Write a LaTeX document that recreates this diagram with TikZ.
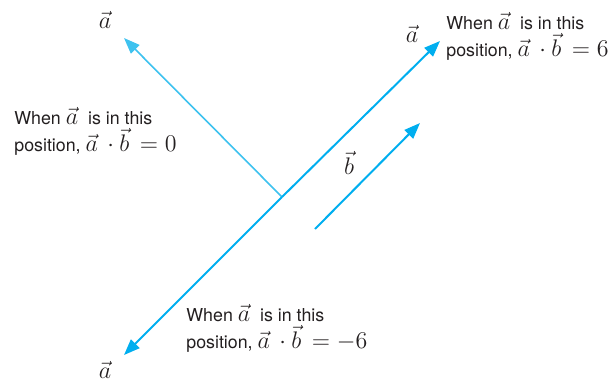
\documentclass[tikz,border=0pt]{standalone}
\usepackage{amsmath}
\usepackage{fontspec}
\setmainfont{TeX Gyre Heros}
\usetikzlibrary{arrows.meta}
\definecolor{vecblue}{HTML}{00AEEF}
\definecolor{perpblue}{HTML}{3EC2EF}
\definecolor{inkgray}{HTML}{231F20}
\newcommand{\bigvm}[1]{{\fontsize{12}{14}\selectfont$#1$}}
\tikzstyle{vecarrow} = [line width=1pt, -{Triangle[length=8pt, width=6pt]}, draw=vecblue]
\tikzstyle{perparrow} = [line width=0.8pt, -{Triangle[length=8pt, width=6pt]}, draw=perpblue]
\tikzstyle{veclabel} = [inner sep=0pt, text=inkgray, font=\fontsize{12}{14}\selectfont]
\tikzstyle{note} = [anchor=north west, inner sep=0pt, align=left, text=inkgray, font=\fontsize{8.9}{13.5}\selectfont]

\begin{document}
\begin{tikzpicture}[x=0.5pt, y=-0.5pt]
  \useasboundingbox (0,0) rectangle (614,381);

  % tail point shared by the three positions of a
  \coordinate (origin) at (282,197);
  \coordinate (aperp) at (124,38);
  \coordinate (apar) at (440,41);
  \coordinate (aanti) at (124,355);
  \coordinate (btail) at (315,229);
  \coordinate (bhead) at (420,123);

  \draw[perparrow] (origin) -- (aperp);
  \draw[vecarrow] (origin) -- (apar);
  \draw[vecarrow] (origin) -- (aanti);
  \draw[vecarrow] (btail) -- (bhead);

  \node[veclabel] (laperp) at (105,20) {$\vec{a}$};
  \node[veclabel] (lapar) at (412,34) {$\vec{a}$};
  \node[veclabel] (laanti) at (105,370) {$\vec{a}$};
  \node[veclabel] (lb) at (349,163) {$\vec{b}$};

  \node[note] (noteperp) at (14,107) {When \bigvm{\vec{a}}\ \ is in this\\position, \bigvm{\vec{a}\,\cdot\vec{b}\,=0}};
  \node[note] (notepar) at (446,12) {When \bigvm{\vec{a}}\ \ is in this\\position, \bigvm{\vec{a}\,\cdot\vec{b}\,=6}};
  \node[note] (noteanti) at (186,304) {When \bigvm{\vec{a}}\ \ is in this\\position, \bigvm{\vec{a}\,\cdot\vec{b}\,=-6}};
\end{tikzpicture}
\end{document}
